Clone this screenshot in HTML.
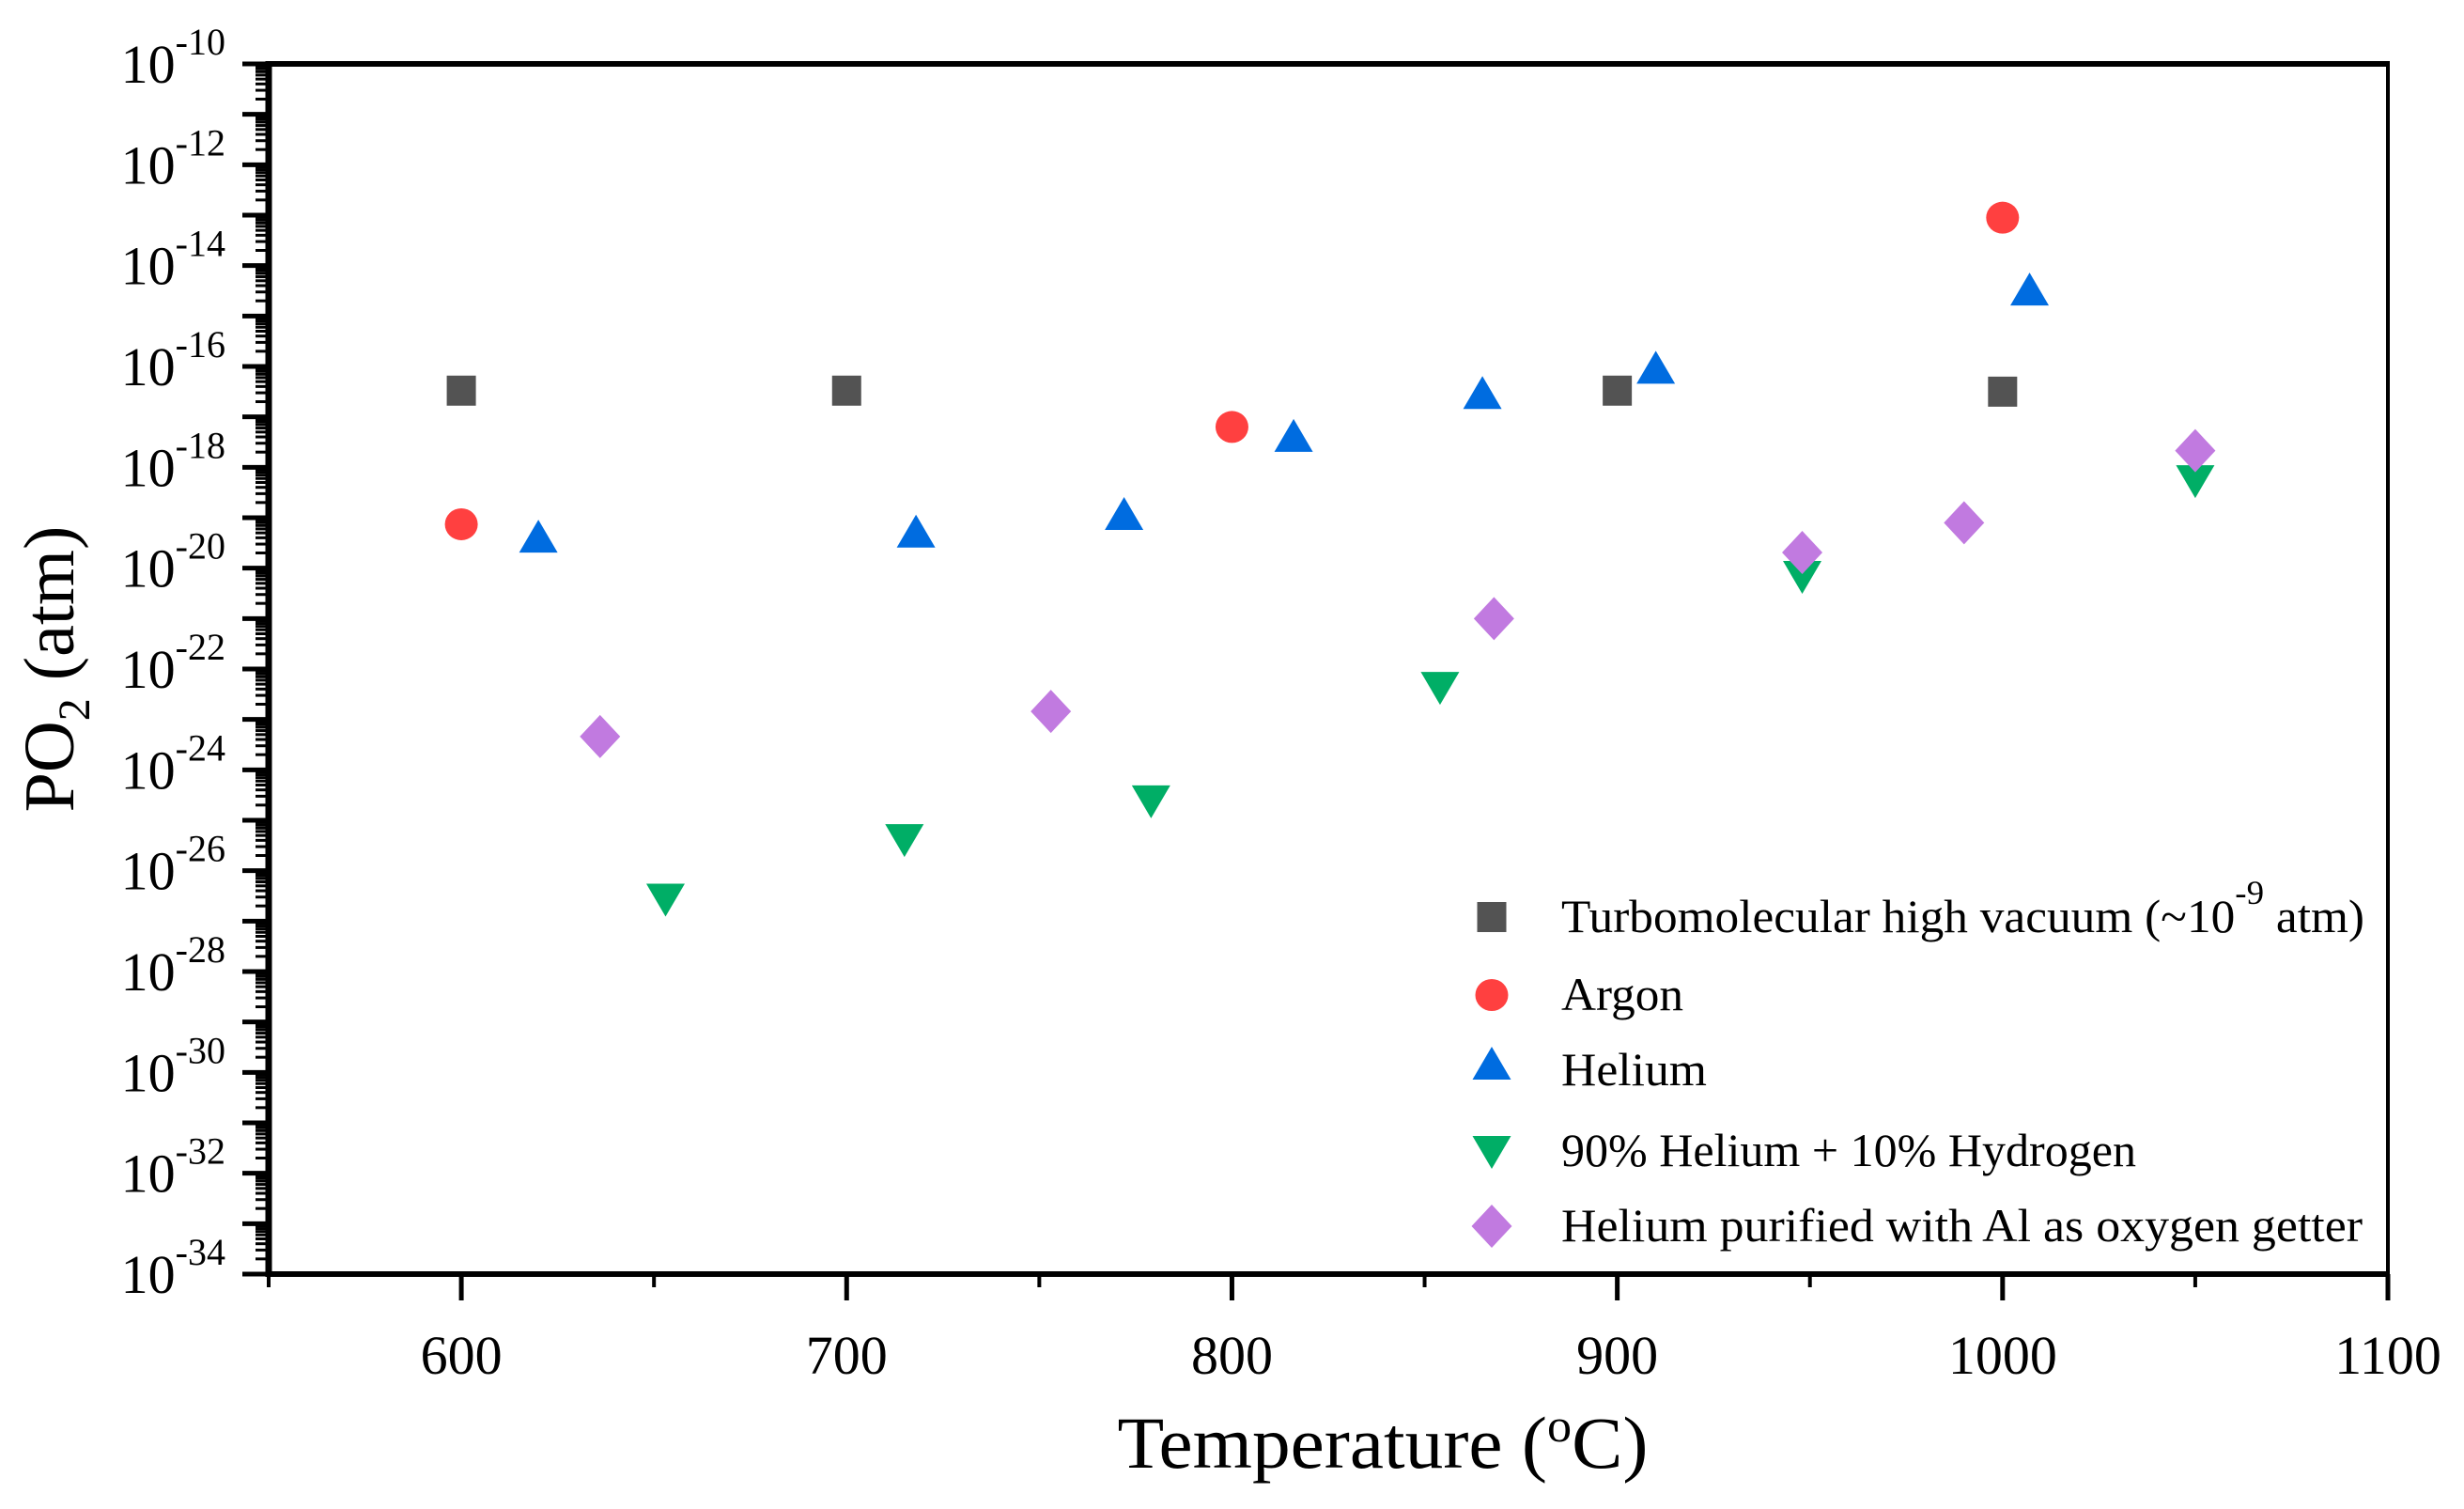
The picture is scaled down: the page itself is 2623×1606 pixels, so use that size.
<!DOCTYPE html>
<html><head><meta charset="utf-8"><style>
html,body{margin:0;padding:0;background:#fff;}
svg{display:block;font-family:"Liberation Serif",serif;}
</style></head><body>
<svg id="chart" width="2623" height="1606" viewBox="0 0 2623 1606" xmlns="http://www.w3.org/2000/svg">
<rect width="2623" height="1606" fill="#fff"/>
<g id="marks"></g>
<g id="axes"></g>
<text x="1472" y="1562" font-size="78" text-anchor="middle" textLength="565" lengthAdjust="spacingAndGlyphs">Temperature (<tspan dy="-28" font-size="50">o</tspan><tspan dy="28">C)</tspan></text>
<text transform="translate(78,712) rotate(-90)" font-size="76" text-anchor="middle">PO<tspan dy="17" font-size="48">2</tspan><tspan dy="-17"> (atm)</tspan></text>
<g id="legend"></g>
</svg>
<script>
const xTicks=[600,700,800,900,1000,1100];
const yTickExps=[-10,-12,-14,-16,-18,-20,-22,-24,-26,-28,-30,-32,-34];
const vacT=[600,700,900,1000];
const vacLog=[-16.48,-16.48,-16.48,-16.5];
const argT=[600,800,1000];
const argLog=[-19.13,-17.2,-13.05];
const heT=[620,718,772,816,865,910,1007];
const heLog=[-19.45,-19.35,-19.0,-17.45,-16.6,-16.1,-14.55];
const hhT=[653,715,779,854,948,1050];
const hhLog=[-26.5,-25.32,-24.55,-22.3,-20.1,-18.2];
const alT=[636,753,868,948,990,1050];
const alLog=[-23.34,-22.84,-21.0,-19.69,-19.1,-17.67];
const seriesNames=["Turbomolecular high vacuum (~10","Argon","Helium","90% Helium + 10% Hydrogen","Helium purified with Al as oxygen getter"];

const L=286,R=2542,T=68,B=1356;
function X(t){return L+(t-550)/(1100-550)*(R-L);}
function Y(e){return T+(-10-e)/(24)*(B-T);}
const NS="http://www.w3.org/2000/svg";
function mk(tag,attrs,parent){const e=document.createElementNS(NS,tag);for(const k in attrs)e.setAttribute(k,attrs[k]);parent.appendChild(e);return e;}
const axes=document.getElementById('axes'),marks=document.getElementById('marks'),legend=document.getElementById('legend');

function marker(type,cx,cy,parent){
  let e;
  if(type==='sq'){e=mk('rect',{x:cx-15.5,y:cy-16,width:31,height:32,fill:'#535353'},parent);}
  else if(type==='ci'){e=mk('ellipse',{cx:cx,cy:cy,rx:17.5,ry:17,fill:'#ff4040'},parent);}
  else if(type==='up'){e=mk('polygon',{points:`${cx},${cy-22} ${cx+20.5},${cy+13} ${cx-20.5},${cy+13}`,fill:'#006ce0'},parent);}
  else if(type==='dn'){e=mk('polygon',{points:`${cx-20.5},${cy-13} ${cx+20.5},${cy-13} ${cx},${cy+22}`,fill:'#00ae66'},parent);}
  else {e=mk('polygon',{points:`${cx},${cy-23} ${cx+21.5},${cy} ${cx},${cy+23} ${cx-21.5},${cy}`,fill:'#c17ae0'},parent);}
  return e;
}
const sets=[[vacT,vacLog,'sq','vacuum'],[argT,argLog,'ci','argon'],[heT,heLog,'up','helium'],[hhT,hhLog,'dn','he-h2'],[alT,alLog,'di','he-al']];
sets.forEach(s=>{
  s[0].forEach((t,i)=>{
    const e=marker(s[2],X(t),Y(s[1][i]),marks);
    
    
  });
});

let a;
a=mk('line',{x1:L,y1:T,x2:R,y2:T,stroke:'#000','stroke-width':6},axes);

a=mk('line',{x1:R,y1:T-3,x2:R,y2:B,stroke:'#000','stroke-width':4},axes);

a=mk('line',{x1:L,y1:T-3,x2:L,y2:B+3,stroke:'#000','stroke-width':7},axes);

a=mk('line',{x1:L-3,y1:B,x2:R+2,y2:B,stroke:'#000','stroke-width':6},axes);


for(let e=-10;e>=-34;e--){
  a=mk('line',{x1:L-28,y1:Y(e),x2:L,y2:Y(e),stroke:'#000','stroke-width':5},axes);
  
  if(e>-34){for(let m=2;m<=9;m++){
    const yy=Y(e-1+Math.log10(m));
    a=mk('line',{x1:L-14,y1:yy,x2:L,y2:yy,stroke:'#000','stroke-width':3},axes);
    
  }}
}
yTickExps.forEach(e=>{
  const t=mk('text',{x:240,y:Y(e)+20,'font-size':58,'text-anchor':'end'},axes);
  
  t.innerHTML='10<tspan dy="-30" font-size="40">'+e+'</tspan>';
});
for(let v=550;v<=1100;v+=50){
  const maj=v%100===0;
  a=mk('line',{x1:X(v),y1:B,x2:X(v),y2:B+(maj?28:14),stroke:'#000','stroke-width':maj?5:4},axes);
  
}
xTicks.forEach(v=>{
  const t=mk('text',{x:X(v),y:1462,'font-size':58,'text-anchor':'middle'},axes);
  
  t.textContent=v;
});
const legY=[976,1059,1139,1225,1305];
const legT=['sq','ci','up','dn','di'];
const legW=[855,130,155,612,853];
seriesNames.forEach((n,i)=>{
  const g=mk('g',{},legend);
  
  
  marker(legT[i],1588,legY[i]+(legT[i]==='up'?-3:legT[i]==='dn'?-3:0),g);
  const t=mk('text',{x:1662,y:legY[i]+16,'font-size':50,textLength:legW[i],lengthAdjust:'spacingAndGlyphs'},g);
  if(i===0){t.innerHTML=n+'<tspan dy="-30" font-size="36">-9</tspan><tspan dy="30"> atm)</tspan>';}
  else t.textContent=n;
});
</script>
</body></html>
